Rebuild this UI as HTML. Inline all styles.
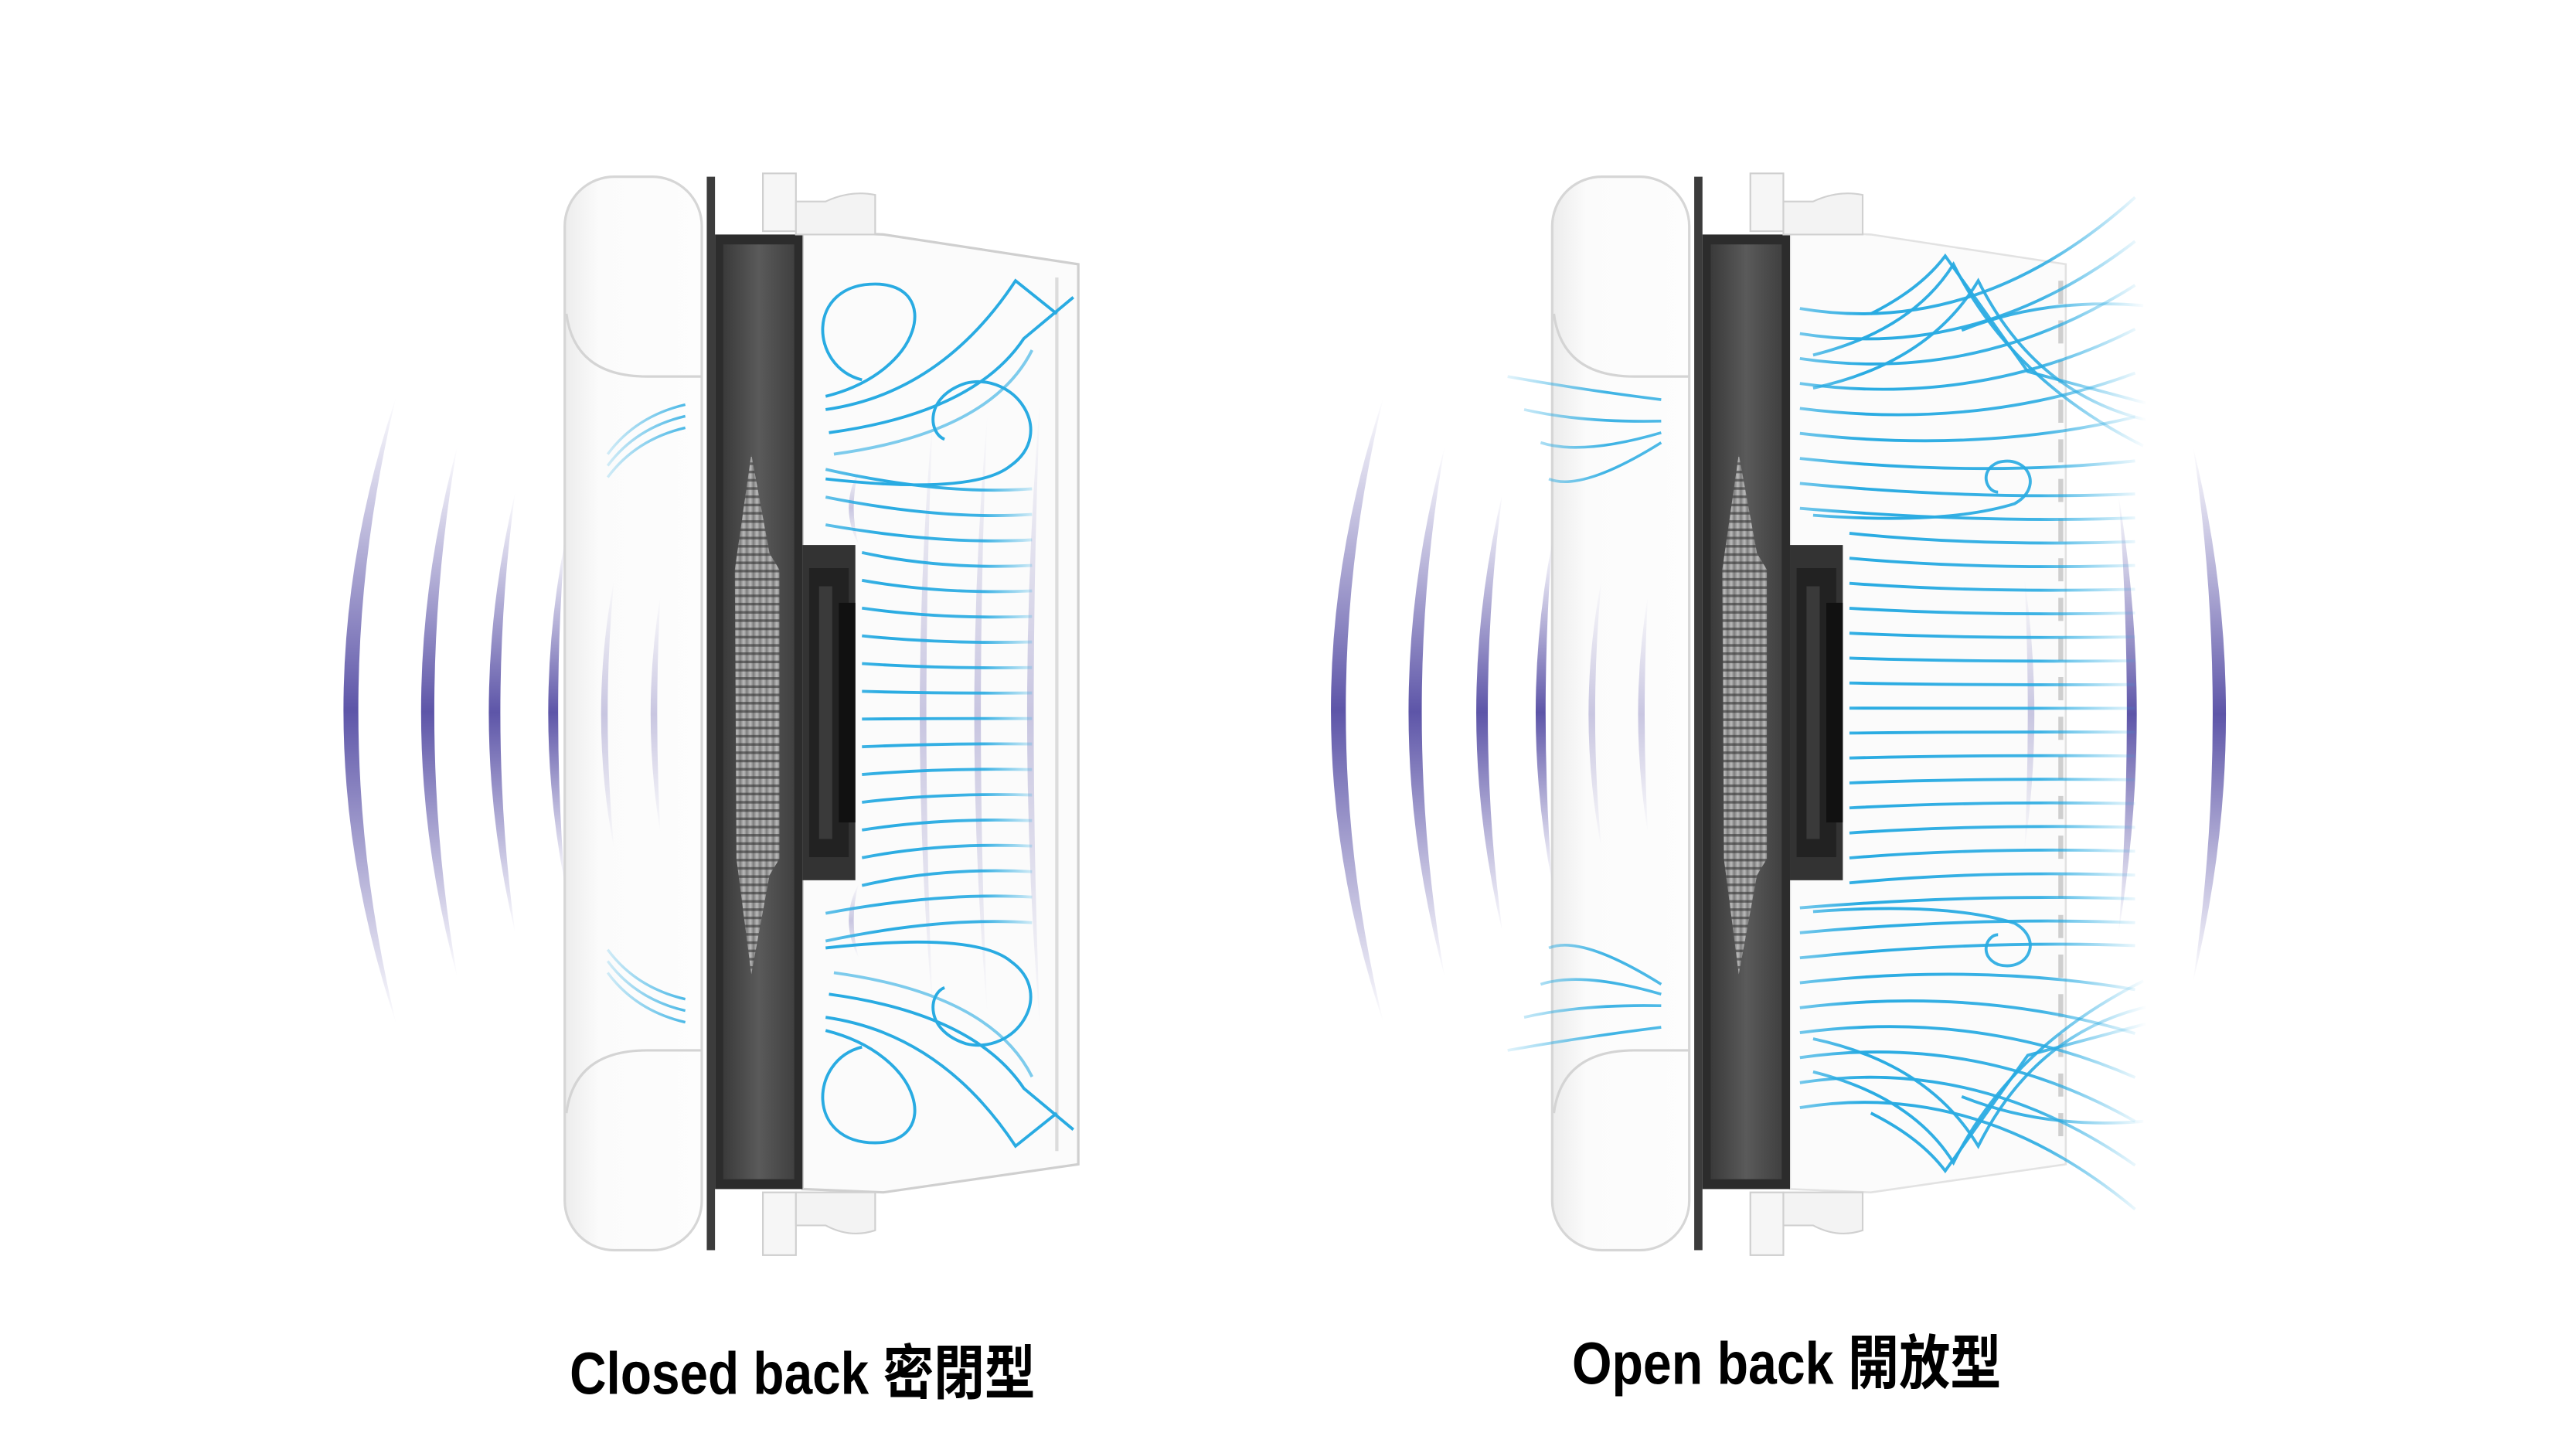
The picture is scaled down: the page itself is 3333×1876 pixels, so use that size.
<!DOCTYPE html>
<html><head><meta charset="utf-8"><style>
html,body{margin:0;padding:0;background:#fff;}
svg{display:block}
</style></head><body>
<svg id="s" xmlns="http://www.w3.org/2000/svg" width="3333" height="1876" viewBox="0 0 1560 878" preserveAspectRatio="none">
<defs>
<linearGradient id="pv" x1="0" y1="0" x2="0" y2="1">
<stop offset="0" stop-color="#6a62b0" stop-opacity="0"/>
<stop offset="0.5" stop-color="#5d55a8" stop-opacity="1"/>
<stop offset="1" stop-color="#6a62b0" stop-opacity="0"/>
</linearGradient>
<linearGradient id="pvf" x1="0" y1="0" x2="0" y2="1">
<stop offset="0" stop-color="#8a84c0" stop-opacity="0"/>
<stop offset="0.5" stop-color="#8a84c0" stop-opacity="0.45"/>
<stop offset="1" stop-color="#8a84c0" stop-opacity="0"/>
</linearGradient>
<linearGradient id="drv" x1="0" y1="0" x2="1" y2="0">
<stop offset="0" stop-color="#3a3a3a"/><stop offset="0.5" stop-color="#5a5a5a"/><stop offset="1" stop-color="#404040"/>
</linearGradient>
<linearGradient id="cone" x1="0" y1="0" x2="1" y2="0">
<stop offset="0" stop-color="#777"/><stop offset="0.6" stop-color="#bbb"/><stop offset="1" stop-color="#888"/>
</linearGradient>
<pattern id="stripe" width="4" height="5" patternUnits="userSpaceOnUse">
<rect width="4" height="5" fill="url(#cone)"/><rect y="0" width="40" height="1.6" fill="#333" opacity="0.6"/>
</pattern>
<linearGradient id="padg" x1="0" y1="0" x2="1" y2="0">
<stop offset="0" stop-color="#ececec"/><stop offset="0.25" stop-color="#fbfbfb"/><stop offset="1" stop-color="#fdfdfd"/>
</linearGradient>
<linearGradient id="bl1" gradientUnits="userSpaceOnUse" x1="495" y1="0" x2="630" y2="0">
<stop offset="0" stop-color="#29abe2" stop-opacity="0.7"/><stop offset="0.3" stop-color="#29abe2"/><stop offset="0.75" stop-color="#29abe2" stop-opacity="0.9"/><stop offset="1" stop-color="#29abe2" stop-opacity="0.1"/>
</linearGradient>
<linearGradient id="bl2" gradientUnits="userSpaceOnUse" x1="1085" y1="0" x2="1300" y2="0">
<stop offset="0" stop-color="#29abe2" stop-opacity="0.6"/><stop offset="0.2" stop-color="#29abe2"/><stop offset="0.7" stop-color="#29abe2" stop-opacity="0.9"/><stop offset="1" stop-color="#29abe2" stop-opacity="0"/>
</linearGradient>
<linearGradient id="blp" gradientUnits="userSpaceOnUse" x1="360" y1="0" x2="420" y2="0">
<stop offset="0" stop-color="#29abe2" stop-opacity="0.1"/><stop offset="1" stop-color="#29abe2" stop-opacity="0.9"/>
</linearGradient>
<linearGradient id="blo" gradientUnits="userSpaceOnUse" x1="910" y1="0" x2="1015" y2="0">
<stop offset="0" stop-color="#29abe2" stop-opacity="0.1"/><stop offset="0.6" stop-color="#29abe2" stop-opacity="0.9"/><stop offset="1" stop-color="#29abe2" stop-opacity="0.8"/>
</linearGradient>

<g id="body">
  <rect x="342" y="107" width="83" height="650" rx="30" fill="url(#padg)" stroke="#d6d6d6" stroke-width="1.5"/>
  <path d="M343,190 Q348,228 392,228 L425,228" fill="none" stroke="#d4d4d4" stroke-width="1.5"/>
  <path d="M343,674 Q348,636 392,636 L425,636" fill="none" stroke="#d4d4d4" stroke-width="1.5"/>
  <rect x="428" y="107" width="5" height="650" fill="#3c3c3c"/>
  <rect x="433" y="142" width="53" height="578" fill="#2c2c2c"/>
  <rect x="438" y="148" width="43" height="566" fill="url(#drv)"/>
  <rect x="486" y="330" width="32" height="203" fill="#333"/>
  <rect x="490" y="344" width="24" height="175" fill="#222"/>
  <rect x="496" y="355" width="8" height="153" fill="#3a3a3a"/>
  <rect x="508" y="365" width="10" height="133" fill="#111"/>
  <path d="M455,275 L466,335 L472,345 L472,520 L466,530 L455,590 L446,520 L445,345 Z" fill="url(#stripe)"/>
  <rect x="462" y="105" width="20" height="35" fill="#f6f6f6" stroke="#cfcfcf"/>
  <path d="M482,122 L500,122 Q515,115 530,118 L530,142 L482,142 Z" fill="#f3f3f3" stroke="#d0d0d0"/>
  <rect x="462" y="722" width="20" height="38" fill="#f6f6f6" stroke="#cfcfcf"/>
  <path d="M482,722 L530,722 L530,745 Q515,750 500,742 L482,742 Z" fill="#f3f3f3" stroke="#d0d0d0"/>
</g>
</defs>

<path d="M486,140 L535,142 L653,160 L653,705 L535,722 L486,720 Z" fill="#fbfbfb" stroke="#cfcfcf" stroke-width="1.5"/>
<line x1="640" y1="168" x2="640" y2="697" stroke="#dcdcdc" stroke-width="2"/>
<use href="#body"/>

<path d="M1084,140 L1133,142 L1251,160 L1251,705 L1133,722 L1084,720 Z" fill="#fbfbfb" stroke="#e2e2e2" stroke-width="1.2"/>
<line x1="1248" y1="170" x2="1248" y2="695" stroke="#cfcfcf" stroke-width="3" stroke-dasharray="14,10"/>
<g transform="translate(598,0)"><use href="#body"/></g>

<g id="purple"></g>
<g id="blue"></g>

<text x="345" y="844" font-family="'Liberation Sans','Noto Sans CJK TC',sans-serif" font-weight="bold" font-size="36" textLength="282" lengthAdjust="spacingAndGlyphs" fill="#000">Closed back 密閉型</text>
<text x="952" y="838" font-family="'Liberation Sans','Noto Sans CJK TC',sans-serif" font-weight="bold" font-size="36" textLength="260" lengthAdjust="spacingAndGlyphs" fill="#000">Open back 開放型</text>
</svg>
<script>
var NS="http://www.w3.org/2000/svg";
function P(g,d,attrs){var p=document.createElementNS(NS,"path");p.setAttribute("d",d);for(var k in attrs)p.setAttribute(k,attrs[k]);document.getElementById(g).appendChild(p);}
function arc(ex,t,b,px,th,fill){var c=(t+b)/2;var c1=2*px-ex;var c2=2*(px+(ex<px?-th:th))-ex;
P("purple","M"+ex+","+t+" Q"+c1+","+c+" "+ex+","+b+" Q"+c2+","+c+" "+ex+","+t+" Z",{fill:fill});}
function lefts(dx){
 arc(240+dx,240,620,208+dx,9,"url(#pv)");
 arc(277+dx,270,592,255+dx,8,"url(#pv)");
 arc(312+dx,298,565,296+dx,7,"url(#pv)");
 arc(342+dx,328,535,332+dx,6,"url(#pv)");
 arc(372+dx,350,515,364+dx,4,"url(#pvf)");
 arc(400+dx,360,505,394+dx,4,"url(#pvf)");
}
lefts(0);lefts(598);
arc(565,250,615,557,4,"url(#pvf)");arc(598,250,615,590,4,"url(#pvf)");arc(630,240,625,622,4,"url(#pvf)");
arc(520,285,330,514,3,"url(#pvf)");arc(520,535,580,514,3,"url(#pvf)");
arc(1226,350,515,1232,4,"url(#pvf)");
arc(1283,300,565,1294,6,"url(#pv)");
arc(1328,270,595,1348,8,"url(#pv)");

var B1={fill:"none",stroke:"url(#bl1)","stroke-width":"1.8"};
var B2={fill:"none",stroke:"url(#bl2)","stroke-width":"1.8"};
for(var y=300;y<=566;y+=15){var xs=(y>330&&y<535)?522:500;var y0=y+(y-432)*0.12;
 P("blue","M"+xs+","+y0.toFixed(1)+" Q570,"+y+" 625,"+(y+(y-432)*0.03).toFixed(1),B1);}
function closedCurves(tr){var a={fill:"none",stroke:"#29abe2","stroke-width":"1.8"};if(tr)a.transform=tr;
 P("blue","M522,230 C490,222 488,172 530,172 C570,172 560,225 500,240",a);
 P("blue","M500,248 Q570,238 615,170 L640,190",a);
 P("blue","M502,262 Q590,250 620,205 L650,180",a);
 P("blue","M505,275 Q600,262 625,212",{fill:"none",stroke:"#29abe2","stroke-width":"1.8",opacity:"0.6",transform:tr||""});
 P("blue","M500,290 Q590,300 612,282 C640,262 615,225 585,232 C560,240 562,262 572,266",a);
}
closedCurves("");closedCurves("translate(0,864) scale(1,-1)");
for(var i=0;i<3;i++){var o=i*7;
 P("blue","M368,"+(275+o)+" Q385,"+(252+o)+" 415,"+(245+o),{fill:"none",stroke:"url(#blp)","stroke-width":"1.6"});
 P("blue","M368,"+(589-o)+" Q385,"+(612-o)+" 415,"+(619-o),{fill:"none",stroke:"url(#blp)","stroke-width":"1.6"});}
for(var y=205;y<=660;y+=14){var xs=(y>330&&y<535)?1120:1090;var y0=y+(y-432)*0.08;var ye;
 if(y<300){ye=y-(300-y)*0.9;}else if(y>565){ye=y+(y-565)*0.9;}else{ye=y+(y-432)*0.03;}
 P("blue","M"+xs+","+y0.toFixed(1)+" Q1198,"+y+" 1293,"+ye.toFixed(1),B2);}
function openCurves(tr){var a={fill:"none",stroke:"url(#bl2)","stroke-width":"1.8",transform:tr};
 P("blue","M1098,215 Q1158,200 1183,160 Q1218,230 1298,270",a);
 P("blue","M1098,235 Q1168,220 1198,170 Q1233,240 1303,255",a);
 P("blue","M1133,190 Q1163,175 1178,155 L1228,225 L1303,245",a);
 P("blue","M1188,200 Q1238,180 1298,185",a);
 P("blue","M1098,312 Q1178,318 1220,305 C1238,295 1228,275 1210,280 C1198,285 1203,298 1210,298",a);
}
openCurves("");openCurves("translate(0,864) scale(1,-1)");
var po=[[913,228,1006,242],[923,248,1006,255],[933,268,1006,262],[938,290,1006,268]];
for(var i=0;i<po.length;i++){var q=po[i];
 P("blue","M"+q[0]+","+q[1]+" Q958,"+(q[1]+8)+" "+q[2]+","+q[3],{fill:"none",stroke:"url(#blo)","stroke-width":"1.7"});
 P("blue","M"+q[0]+","+(864-q[1])+" Q958,"+(864-q[1]-8)+" "+q[2]+","+(864-q[3]),{fill:"none",stroke:"url(#blo)","stroke-width":"1.7"});}
</script>
</body></html>
